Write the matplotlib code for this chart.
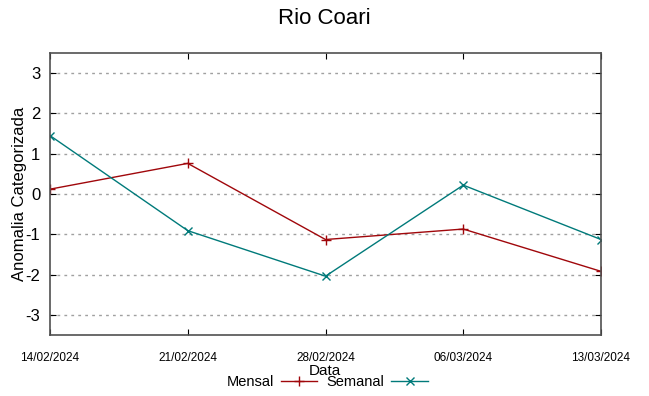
import numpy as np
import matplotlib.pyplot as plt

plt.rcParams['font.family'] = ['Liberation Sans', 'DejaVu Sans']

datas = ['14/02/2024', '21/02/2024', '28/02/2024', '06/03/2024', '13/03/2024']
mensal = [0.12, 0.76, -1.13, -0.87, -1.92]
semanal = [1.45, -0.91, -2.04, 0.22, -1.13]
yticks = [-3, -2, -1, 0, 1, 2, 3]

x = np.arange(len(datas))

fig = plt.figure(figsize=(6.49, 3.96), dpi=100)
ax = fig.add_axes([50/649, 1-335/396, 551/649, 282/396])

ax.plot(x, mensal, color='#a0070b', lw=1, marker='+', ms=7, mew=1, label='Mensal')
ax.plot(x, semanal, color='#007a7a', lw=1, marker='x', ms=6, mew=1, label='Semanal')

ax.set_xlim(0, len(datas)-1)
ax.set_ylim(-3.5, 3.5)
ax.set_yticks(yticks)
ax.set_yticklabels([str(v) for v in yticks], fontsize=12)
ax.set_xticks(x)
ax.set_xticklabels(datas, fontsize=8.5)
ax.tick_params(axis='both', direction='in', top=True, right=True, length=4, color='black')
ax.tick_params(axis='x', pad=12)
ax.tick_params(axis='y', pad=7)
ax.yaxis.grid(True, linestyle=(0, (2, 3)), color='#a0a0a0', lw=1)
for s in ax.spines.values():
    s.set_color('#505050')
    s.set_linewidth(1.2)

ax.set_ylabel('Anomalia Categorizada', fontsize=12)
ax.yaxis.set_label_coords(-(50-27)/551, 0.5)
fig.text(325/649, 1-371/396, 'Data', ha='center', va='center', fontsize=11)
fig.suptitle('Rio Coari', fontsize=16, y=1-18/396, va='center')

fig.legend(loc='center', bbox_to_anchor=(327/649, 1-382/396), ncol=2, frameon=False,
           markerfirst=False, fontsize=10.5, handlelength=2.5, handletextpad=0.5,
           columnspacing=0.6, borderpad=0)

fig.savefig('out.png', dpi=100)
